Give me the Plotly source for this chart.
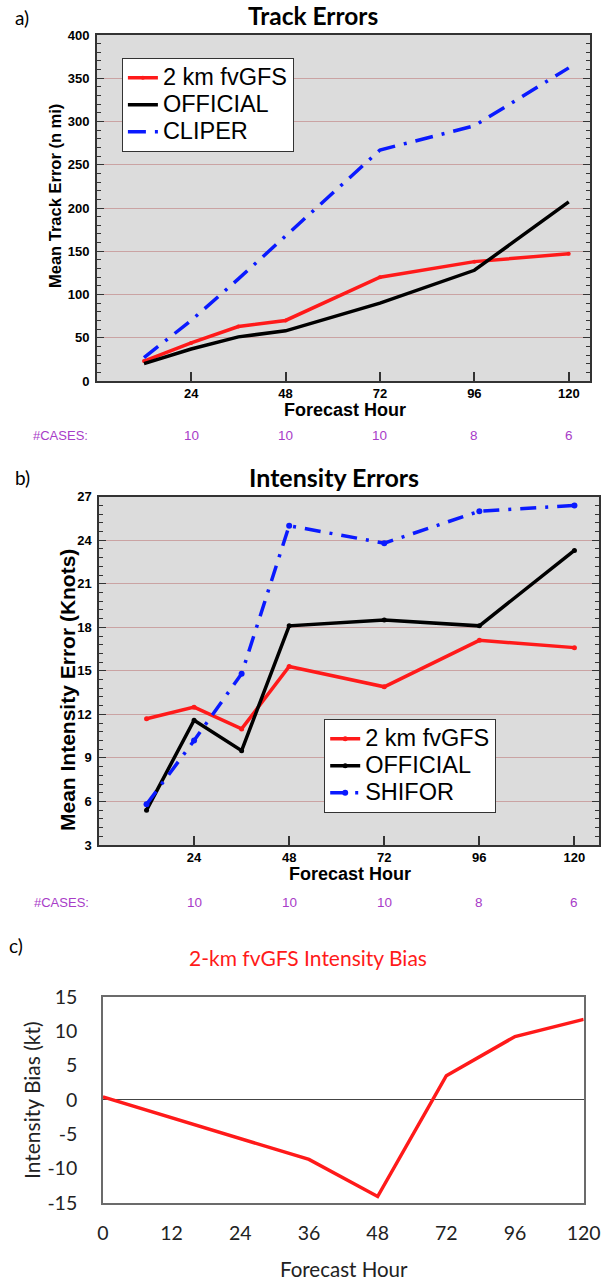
import plotly.graph_objects as go

W, H = 602, 1280

# ---------------- data ----------------
hours = [12, 24, 36, 48, 72, 96, 120]

track_fvgfs = [23, 44, 63, 70, 120, 138, 147]
track_official = [20, 37, 51, 58, 90, 128, 207]
track_cliper = [27, 70, 118, 168, 267, 295, 362]

int_fvgfs = [11.7, 12.5, 11.0, 15.3, 13.9, 17.1, 16.6]
int_official = [5.4, 11.6, 9.5, 18.1, 18.5, 18.1, 23.3]
int_shifor = [5.8, 10.2, 14.8, 25.0, 23.8, 26.0, 26.4]

case_hours = [24, 48, 72, 96, 120]
cases = [10, 10, 10, 8, 6]

bias_hours = ["0", "12", "24", "36", "48", "72", "96", "120"]
bias_vals = [0.4, -2.6, -5.6, -8.7, -14.1, 3.5, 9.2, 11.7]
bias_ticks = [-15, -10, -5, 0, 5, 10, 15]
bias_ticktext = ["-15", "-10", "-5", "0", "5", "10", "15"]

# ---------------- helpers ----------------
def px(x):
    return x / W

def py(y):
    return 1 - y / H

RED = "#ff1a1a"
BLACK = "#000000"
BLUE = "#0a1aff"
PURPLE = "#a83cc8"
GRID = "#caa3a3"
BG = "#dcdcdc"
HELV = "Liberation Sans"
CAL = "Lato"

def lg(s):
    return '<span style="font-size:23.5px">' + s + '</span>'

fig = go.Figure()

# Panel a
fig.add_trace(go.Scatter(x=hours, y=track_fvgfs, name=lg("2 km fvGFS"), mode="lines+markers",
                         line=dict(color=RED, width=3.5), marker=dict(size=4, color=RED),
                         xaxis="x", yaxis="y", legend="legend"))
fig.add_trace(go.Scatter(x=hours, y=track_official, name=lg("OFFICIAL"), mode="lines",
                         line=dict(color=BLACK, width=3.5),
                         xaxis="x", yaxis="y", legend="legend"))
fig.add_trace(go.Scatter(x=hours, y=track_cliper, name=lg("CLIPER"), mode="lines",
                         line=dict(color=BLUE, width=3.5, dash="18px,9px,3px,9px"),
                         xaxis="x", yaxis="y", legend="legend"))

# Panel b
fig.add_trace(go.Scatter(x=hours, y=int_fvgfs, name=lg("2 km fvGFS"), mode="lines+markers",
                         line=dict(color=RED, width=3.5), marker=dict(size=5, color=RED),
                         xaxis="x2", yaxis="y2", legend="legend2"))
fig.add_trace(go.Scatter(x=hours, y=int_official, name=lg("OFFICIAL"), mode="lines+markers",
                         line=dict(color=BLACK, width=3.5), marker=dict(size=5, color=BLACK),
                         xaxis="x2", yaxis="y2", legend="legend2"))
fig.add_trace(go.Scatter(x=hours, y=int_shifor, name=lg("SHIFOR"), mode="lines+markers",
                         line=dict(color=BLUE, width=3.5, dash="16px,9px,3px,9px"),
                         marker=dict(size=6, color=BLUE),
                         xaxis="x2", yaxis="y2", legend="legend2"))

# Panel c
fig.add_trace(go.Scatter(x=bias_hours, y=bias_vals, mode="lines", showlegend=False,
                         line=dict(color=RED, width=3.5),
                         xaxis="x3", yaxis="y3"))

tickfont_ab = dict(family=HELV, size=13, color="black", weight="bold")

common_x = dict(showline=True, linecolor="#333", linewidth=1.5, mirror=True,
                ticks="inside", ticklen=9, tickwidth=1.5, tickcolor="#333",
                tickfont=tickfont_ab, showgrid=False, zeroline=False, automargin=False,
                tickvals=[24, 48, 72, 96, 120], ticklabelstandoff=0)
common_y = dict(showline=True, linecolor="#333", linewidth=1.5, mirror="ticks",
                ticks="inside", ticklen=7, tickwidth=1.2, tickcolor="#333",
                tickfont=tickfont_ab, showgrid=True, gridcolor=GRID, gridwidth=1,
                zeroline=False, automargin=False, ticklabelstandoff=3)

fig.update_layout(
    width=W, height=H,
    margin=dict(l=0, r=0, t=0, b=0),
    paper_bgcolor="white",
    plot_bgcolor="white",
    xaxis=dict(common_x, domain=[px(96.8), px(590)], range=[0, 125.4], anchor="y"),
    yaxis=dict(common_y, domain=[py(381), py(35)], range=[0, 400], dtick=50, anchor="x",
               minor=dict(dtick=10, ticks="inside", ticklen=4, tickcolor="#333", showgrid=False)),
    xaxis2=dict(common_x, domain=[px(99), px(599)], range=[0, 126.2], anchor="y2"),
    yaxis2=dict(common_y, domain=[py(845), py(496.7)], range=[3, 27], dtick=3, anchor="x2",
                minor=dict(dtick=0.6, ticks="inside", ticklen=4, tickcolor="#333", showgrid=False)),
    xaxis3=dict(type="category", domain=[px(102.9), px(583.7)], range=[0, 7], anchor="y3",
                showline=True, linecolor="#6b6b6b", linewidth=1.5, mirror=True,
                ticks="", showgrid=False, zeroline=False, automargin=False,
                tickfont=dict(family=CAL, size=19.5, color="#222"), ticklabelstandoff=12),
    yaxis3=dict(domain=[py(1202.7), py(996.7)], range=[-15, 15], anchor="x3",
                tickvals=bias_ticks, ticktext=bias_ticktext,
                showline=True, linecolor="#6b6b6b", linewidth=1.5, mirror=True,
                ticks="", showgrid=False, zeroline=True, zerolinecolor="#444", zerolinewidth=1.2,
                automargin=False,
                tickfont=dict(family=CAL, size=19.5, color="#222"), ticklabelstandoff=20),
    legend=dict(x=px(121.7), y=py(58), xanchor="left", yanchor="top",
                bgcolor="white", bordercolor="#333", borderwidth=1.2,
                font=dict(family=HELV, size=18.5, color="black"), tracegroupgap=0,
                itemwidth=30),
    legend2=dict(x=px(324), y=py(719), xanchor="left", yanchor="top",
                 bgcolor="white", bordercolor="#333", borderwidth=1.2,
                 font=dict(family=HELV, size=18.5, color="black"), tracegroupgap=0,
                 itemwidth=30),
    shapes=[
        dict(type="rect", xref="x domain", yref="y domain", x0=0, x1=1, y0=0, y1=1,
             fillcolor=BG, line=dict(width=0), layer="below"),
        dict(type="rect", xref="x2 domain", yref="y2 domain", x0=0, x1=1, y0=0, y1=1,
             fillcolor=BG, line=dict(width=0), layer="below"),
    ],
)

ann = []

def text(x, y, s, size, color="black", family=HELV, weight="normal", angle=0, xanchor="center"):
    ann.append(dict(x=px(x), y=py(y), xref="paper", yref="paper", text=s, showarrow=False,
                    font=dict(family=family, size=size, color=color, weight=weight),
                    textangle=angle, xanchor=xanchor, yanchor="middle"))

# panel labels and titles
text(13, 17, "a)", 19, family=CAL, xanchor="left")
text(313, 16, "Track Errors", 24.5, family=CAL, weight="bold")
text(13, 477, "b)", 19, family=CAL, xanchor="left")
text(334, 477, "Intensity Errors", 25, family=CAL, weight="bold")
text(7, 945, "c)", 19, family=CAL, xanchor="left")
text(308, 957, "2-km fvGFS Intensity Bias", 21, color=RED, family=CAL)

# axis titles
text(345, 410, "Forecast Hour", 18, weight="bold")
text(55, 196, "Mean Track Error (n mi)", 16.5, weight="bold", angle=-90)
text(350, 874, "Forecast Hour", 18, weight="bold")
text(67, 690, "Mean Intensity Error (Knots)", 21, weight="bold", angle=-90)
text(344, 1269, "Forecast Hour", 20.5, family=CAL, color="#222")
text(31, 1100, "Intensity Bias (kt)", 21, family=CAL, color="#222", angle=-90)

# #CASES rows
text(60, 436, "#CASES:", 13, color=PURPLE)
text(61, 902, "#CASES:", 13, color=PURPLE)
for h, c in zip(case_hours, cases):
    ann.append(dict(x=h, y=py(436), xref="x", yref="paper", text=str(c), showarrow=False,
                    font=dict(family=HELV, size=13.5, color=PURPLE), yanchor="middle"))
    ann.append(dict(x=h, y=py(902), xref="x2", yref="paper", text=str(c), showarrow=False,
                    font=dict(family=HELV, size=13.5, color=PURPLE), yanchor="middle"))

fig.update_layout(annotations=ann)

fig.write_html("out.html")
